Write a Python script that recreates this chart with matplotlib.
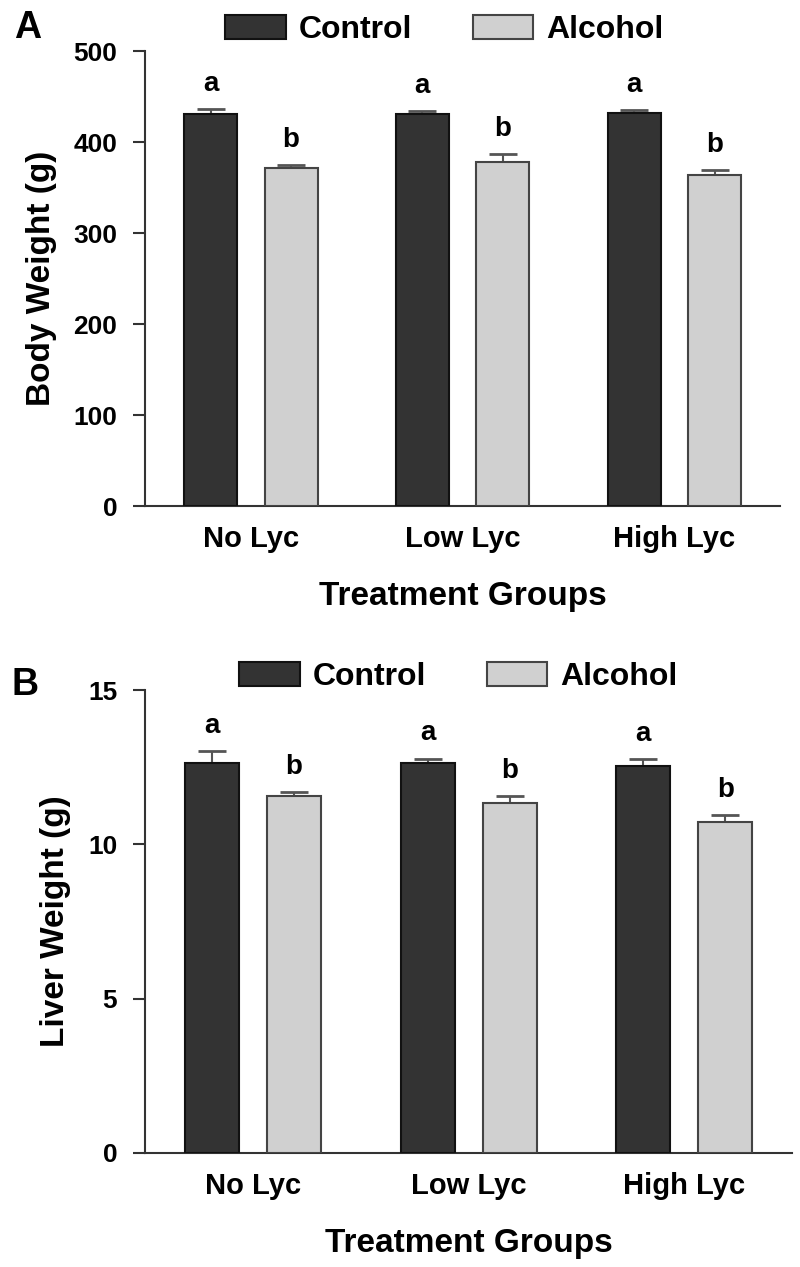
import matplotlib.pyplot as plt
import numpy as np

plt.rcParams['font.family'] = ['Liberation Sans', 'DejaVu Sans']

# treatment groups
groups = ["No Lyc", "Low Lyc", "High Lyc"]

# panel A: body weight (g)
body_control = [431, 431, 432]
body_control_err = [5, 3, 3]
body_alcohol = [372, 378, 364]
body_alcohol_err = [3, 9, 5]

# panel B: liver weight (g)
liver_control = [12.65, 12.65, 12.55]
liver_control_err = [0.38, 0.13, 0.22]
liver_alcohol = [11.55, 11.35, 10.72]
liver_alcohol_err = [0.15, 0.2, 0.22]

letters_control = ["a", "a", "a"]
letters_alcohol = ["b", "b", "b"]

dark = "#333333"
light = "#d0d0d0"


# draw one panel of grouped bars with letters on top
def draw_panel(ax, ctrl, ctrl_err, alc, alc_err, ylim, yticks, ylabel, leg_pos):
    x = np.arange(len(groups))
    off = 0.19
    w = 0.25
    ax.bar(x - off, ctrl, w, color=dark, edgecolor="#111111", linewidth=1.5,
           label="Control", zorder=3)
    ax.bar(x + off, alc, w, color=light, edgecolor="#444444", linewidth=1.5,
           label="Alcohol", zorder=3)
    ax.errorbar(x - off, ctrl, yerr=[np.zeros(3), ctrl_err], fmt='none',
                ecolor="#555555", elinewidth=1.5, capsize=10, capthick=2, zorder=2)
    ax.errorbar(x + off, alc, yerr=[np.zeros(3), alc_err], fmt='none',
                ecolor="#555555", elinewidth=1.5, capsize=10, capthick=2, zorder=2)
    for i in range(len(groups)):
        ax.annotate(letters_control[i], (x[i] - off, ctrl[i] + ctrl_err[i]),
                    xytext=(0, 13), textcoords="offset points", ha="center",
                    va="baseline", fontsize=20, fontweight="bold")
        ax.annotate(letters_alcohol[i], (x[i] + off, alc[i] + alc_err[i]),
                    xytext=(0, 13), textcoords="offset points", ha="center",
                    va="baseline", fontsize=20, fontweight="bold")

    ax.set_xlim(-0.5, 2.5)
    ax.set_ylim(*ylim)
    ax.set_yticks(yticks)
    ax.set_xticks(x)
    ax.set_xticklabels(groups)
    for s in ["top", "right"]:
        ax.spines[s].set_visible(False)
    for s in ["left", "bottom"]:
        ax.spines[s].set_color("#333333")
        ax.spines[s].set_linewidth(1.5)
    ax.tick_params(axis="y", direction="out", length=9, width=1.5,
                   color="#333333", pad=11, labelsize=19)
    ax.tick_params(axis="x", length=0, pad=14, labelsize=21)
    for lab in ax.get_xticklabels() + ax.get_yticklabels():
        lab.set_fontweight("bold")
    ax.set_ylabel(ylabel, fontsize=24, fontweight="bold", labelpad=12)
    ax.set_xlabel("Treatment Groups", fontsize=24, fontweight="bold", labelpad=20)
    ax.legend(loc="center", bbox_to_anchor=leg_pos, ncol=2, frameon=False,
              prop={"size": 23, "weight": "bold"}, handlelength=1.9, handleheight=0.75,
              handletextpad=0.4, columnspacing=1.9, borderpad=0, borderaxespad=0)


fig = plt.figure(figsize=(8, 12.67), dpi=100)
ax1 = fig.add_axes([0.18125, 0.6006, 0.794, 0.359])
ax2 = fig.add_axes([0.18125, 0.09, 0.809, 0.3654])

draw_panel(ax1, body_control, body_control_err, body_alcohol, body_alcohol_err,
           (0, 500), [0, 100, 200, 300, 400, 500], "Body Weight (g)", (0.471, 1.046))
draw_panel(ax2, liver_control, liver_control_err, liver_alcohol, liver_alcohol_err,
           (0, 15), [0, 5, 10, 15], "Liver Weight (g)", (0.484, 1.028))

fig.text(0.018, 0.978, "A", fontsize=27, fontweight="bold", va="center")
fig.text(0.015, 0.459, "B", fontsize=27, fontweight="bold", va="center")

fig.savefig("out.png", dpi=100)
